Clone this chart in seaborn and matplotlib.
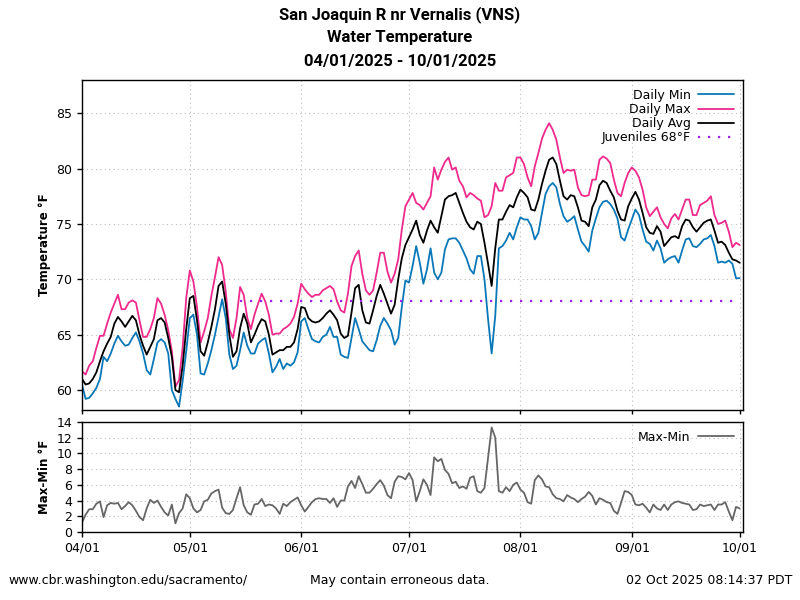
import matplotlib
matplotlib.use("Agg")
import matplotlib.pyplot as plt
import matplotlib.dates as mdates
import seaborn as sns
import pandas as pd
import numpy as np

start_date = "2025-04-01"
end_date = "2025-10-01"
juv_start = "2025-05-15"
juv_temp = 68

daily_min = [
    60.5, 59.2, 59.3, 59.7, 60.2, 61.0, 63.0, 62.6, 63.3, 64.2,
    64.9, 64.4, 64.0, 64.1, 64.7, 65.2, 64.4, 63.3, 61.8, 61.4,
    62.8, 64.3, 64.6, 64.3, 63.3, 60.0, 59.2, 58.5, 60.8, 63.5,
    66.5, 66.8, 65.0, 61.5, 61.4, 62.4, 63.6, 65.0, 66.6, 68.2,
    66.5, 63.2, 61.9, 62.2, 63.6, 65.2, 64.0, 63.3, 63.3, 64.2,
    64.5, 64.7, 63.3, 61.6, 62.1, 62.8, 61.9, 62.4, 62.2, 62.5,
    63.4, 66.2, 66.5, 65.5, 64.6, 64.4, 64.3, 64.8, 65.0, 65.7,
    64.8, 64.8, 63.2, 63.0, 62.9, 64.7, 66.5, 65.5, 64.4, 64.0,
    63.6, 63.5, 64.5, 65.8, 66.5, 66.0, 65.4, 64.1, 64.7, 67.5,
    69.9, 69.7, 71.2, 73.0, 71.5, 69.6, 70.9, 72.8, 70.6, 70.0,
    70.6, 72.7, 73.6, 73.7, 73.7, 73.3, 72.6, 71.9, 70.9, 70.5,
    72.1, 72.1, 70.0, 66.4, 63.3, 66.7, 72.8, 73.0, 73.5, 74.2,
    73.6, 74.7, 75.6, 75.4, 75.4, 74.8, 73.6, 74.2, 76.0, 77.7,
    78.4, 78.7, 78.3, 76.8, 75.7, 75.2, 75.4, 75.7, 74.5, 73.4,
    73.0, 72.5, 74.4, 75.5, 76.5, 77.0, 77.1, 76.8, 76.3, 75.5,
    73.8, 73.5, 74.5, 75.4, 76.3, 75.8, 74.5, 73.4, 73.2, 72.6,
    73.5, 72.8, 71.5, 71.8, 72.0, 72.1, 71.5, 72.6, 73.6, 73.7,
    73.0, 72.9, 73.2, 73.6, 73.7, 74.0, 73.0, 71.5, 71.6, 71.5,
    71.7, 71.4, 70.1, 70.1,
]

daily_max = [
    61.7, 61.4, 62.2, 62.6, 63.8, 64.9, 64.9, 66.0, 67.0, 67.8,
    68.6, 67.3, 67.3, 67.9, 68.1, 67.9, 66.3, 64.8, 64.8, 65.5,
    66.5, 68.3, 67.8, 66.8, 65.4, 63.5, 60.3, 60.9, 63.8, 68.3,
    70.8, 69.8, 67.5, 64.3, 65.3, 66.5, 68.5, 70.2, 72.0, 71.3,
    68.9, 65.5, 64.7, 66.5, 69.3, 68.6, 66.5, 65.5, 66.8, 67.8,
    68.7, 68.0, 66.8, 65.0, 65.1, 65.1, 65.5, 65.7, 66.0, 66.6,
    67.8, 69.6, 69.1, 68.7, 68.4, 68.6, 68.6, 69.0, 69.2, 69.4,
    69.1, 68.0, 67.2, 67.0, 68.7, 71.2, 72.1, 72.6, 70.5, 69.0,
    68.6, 69.0, 70.6, 72.4, 72.4, 70.7, 69.7, 70.5, 71.8, 74.5,
    76.6, 77.2, 77.8, 76.9, 76.7, 76.3, 76.9, 77.5, 80.1, 79.0,
    79.9, 80.6, 81.0, 79.9, 80.1, 78.9, 78.4, 77.4, 77.8, 77.6,
    77.3, 77.1, 75.6, 75.8, 76.6, 78.7, 78.0, 78.0, 79.2, 79.4,
    79.6, 81.0, 81.0, 80.4, 79.2, 78.4, 80.2, 81.4, 82.7, 83.5,
    84.1, 83.5, 82.6, 81.0, 79.6, 79.9, 79.8, 79.9, 78.3, 77.6,
    77.5, 77.6, 79.0, 79.0, 80.8, 81.1, 80.9, 80.5, 79.0, 77.8,
    77.5, 78.7, 79.6, 80.1, 79.8, 79.2, 78.1, 76.5, 75.7, 76.1,
    76.5, 75.6, 75.0, 74.6, 75.5, 75.9, 75.4, 76.3, 77.2, 77.2,
    75.8, 75.8, 76.7, 76.9, 77.1, 77.5, 75.8, 75.0, 75.1, 75.3,
    74.3, 72.9, 73.3, 73.1,
]

daily_avg = [
    61.0, 60.5, 60.6, 61.0, 61.6, 62.6, 63.5, 64.2, 64.8, 66.0,
    66.6, 66.2, 65.7, 66.2, 66.7, 66.3, 65.0, 64.0, 63.2, 63.9,
    64.6, 66.3, 66.5, 66.1, 64.7, 63.0, 60.0, 59.8, 62.2, 65.5,
    68.3, 68.5, 66.3, 63.5, 63.1, 64.3, 65.7, 67.3, 69.4, 69.8,
    67.8, 65.0, 63.0, 63.5, 65.6, 66.9, 66.0, 64.3, 65.0, 65.8,
    66.4, 66.2, 65.0, 63.2, 63.4, 63.6, 63.6, 63.9, 63.9, 64.3,
    65.5, 67.5, 67.4, 66.5, 66.2, 66.1, 66.2, 66.5, 66.9, 67.2,
    66.8, 66.3, 65.1, 64.7, 64.9, 67.0, 69.2, 69.5, 67.2, 66.1,
    66.0, 67.2, 68.5, 69.5, 68.7, 67.8, 66.9, 67.7, 70.0, 71.9,
    73.1, 73.8, 74.5, 75.3, 74.0, 73.3, 74.4, 75.3, 74.7, 74.2,
    75.7, 77.2, 77.5, 77.6, 77.8, 76.9, 76.0, 75.2, 74.7, 74.5,
    75.2, 75.0, 73.3, 71.4, 69.4, 72.8, 75.4, 75.4, 76.1, 76.7,
    76.5, 77.4, 78.1, 77.8, 77.4, 76.3, 76.2, 77.2, 78.6, 79.8,
    80.8, 81.0, 80.4, 78.9, 77.5, 77.2, 77.6, 77.5, 76.5, 75.3,
    75.2, 74.8, 76.5, 77.2, 78.5, 78.9, 78.7, 78.0, 77.4, 76.2,
    75.4, 75.3, 76.6, 77.3, 77.9, 77.2, 76.0, 74.7, 74.2, 74.1,
    74.8, 74.3, 73.0, 73.4, 73.8, 73.9, 73.7, 74.8, 75.4, 75.3,
    74.7, 74.3, 74.7, 75.1, 75.3, 75.4, 74.4, 73.3, 73.4, 73.1,
    72.4, 71.8, 71.7, 71.5,
]

dates = pd.date_range(start_date, end_date, freq="D")
df = pd.DataFrame({"date": dates, "min": daily_min, "max": daily_max, "avg": daily_avg})
df["range"] = df["max"] - df["min"]
juv_dates = pd.date_range(juv_start, end_date, freq="D")
df_juv = pd.DataFrame({"date": juv_dates, "t": [juv_temp] * len(juv_dates)})

sns.set_style("white")
plt.rcParams["font.family"] = ["DejaVu Sans"]
plt.rcParams["text.color"] = "black"
plt.rcParams["axes.labelcolor"] = "black"
plt.rcParams["xtick.color"] = "black"
plt.rcParams["ytick.color"] = "black"

fig = plt.figure(figsize=(8, 6), dpi=100)
ax1 = fig.add_axes([0.1025, 0.3167, 0.8265, 0.55])
ax2 = fig.add_axes([0.1025, 0.1133, 0.8265, 0.1834])

c_min = "#0a78b8"
c_max = "#ee2a8c"
c_avg = "#000000"
c_juv = "#a020f0"
c_rng = "#666666"

sns.lineplot(data=df, x="date", y="min", ax=ax1, color=c_min, lw=1.3, label="Daily Min")
sns.lineplot(data=df, x="date", y="max", ax=ax1, color=c_max, lw=1.3, label="Daily Max")
sns.lineplot(data=df, x="date", y="avg", ax=ax1, color=c_avg, lw=1.3, label="Daily Avg")
sns.lineplot(data=df_juv, x="date", y="t", ax=ax1, color=c_juv, lw=1.6,
             linestyle=(0, (1, 3.5)), label="Juveniles 68°F")
sns.lineplot(data=df, x="date", y="range", ax=ax2, color=c_rng, lw=1.3, label="Max-Min")

xlim = (pd.Timestamp(start_date), pd.Timestamp("2025-10-02"))
for ax in (ax1, ax2):
    ax.set_xlim(xlim)
    ax.xaxis.set_major_locator(mdates.MonthLocator())
    ax.xaxis.set_major_formatter(mdates.DateFormatter("%m/%d"))
    ax.grid(True, color="#bbbbbb", linestyle=(0, (1, 3)), lw=0.8)
    for s in ax.spines.values():
        s.set_color("black")
        s.set_linewidth(1.0)
    ax.tick_params(axis="both", labelsize=9, length=3.5, width=1, color="black",
                   direction="out", bottom=True, left=True)
    ax.set_xlabel("")

ax1.set_ylim(58.2, 88)
ax1.set_yticks([60, 65, 70, 75, 80, 85])
ax1.tick_params(axis="x", labelbottom=False, length=3)
ax1.set_ylabel("Temperature °F", fontsize=8.5, fontweight="bold")

ax2.set_ylim(0, 14)
ax2.set_yticks([0, 2, 4, 6, 8, 10, 12, 14])
ax2.set_ylabel("Max-Min °F", fontsize=8.5, fontweight="bold")

leg_kw = dict(loc="upper right", frameon=False, markerfirst=False, fontsize=9,
              handlelength=2.9, borderaxespad=0.3, labelspacing=0.1, handletextpad=0.6)
ax1.legend(**leg_kw)
ax2.legend(**leg_kw)

title_font = ["Roboto", "DejaVu Sans"]
fig.text(0.5, 0.975, "San Joaquin R nr Vernalis (VNS)", ha="center", va="center",
         fontsize=12, fontweight="bold", family=title_font)
fig.text(0.5, 0.937, "Water Temperature", ha="center", va="center",
         fontsize=12, fontweight="bold", family=title_font)
fig.text(0.5, 0.898, "04/01/2025 - 10/01/2025", ha="center", va="center",
         fontsize=12, fontweight="bold", family=title_font)

fig.text(0.01, 0.032, "www.cbr.washington.edu/sacramento/", ha="left", va="center", fontsize=9)
fig.text(0.5, 0.032, "May contain erroneous data.", ha="center", va="center", fontsize=9)
fig.text(0.99, 0.032, "02 Oct 2025 08:14:37 PDT", ha="right", va="center", fontsize=9)

fig.savefig("out.png", dpi=100)
